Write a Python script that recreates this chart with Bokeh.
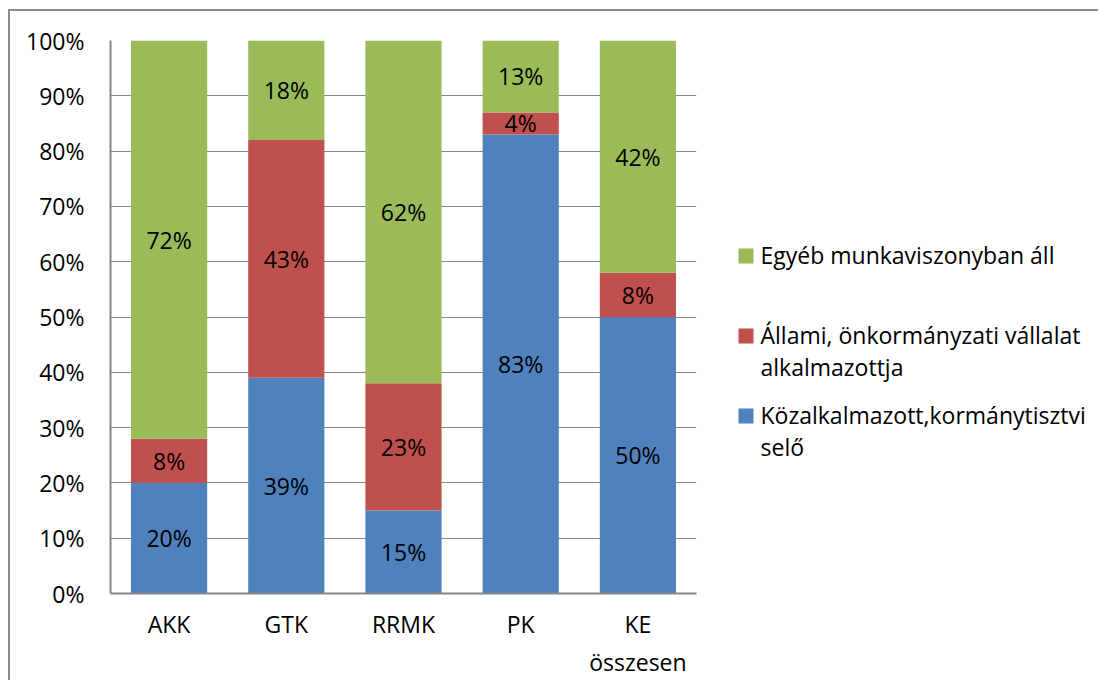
from bokeh.plotting import figure
from bokeh.layouts import row
from bokeh.models import (ColumnDataSource, LabelSet, FixedTicker, Range1d, FactorRange)
from bokeh.core.properties import value
from bokeh.embed import file_html
from bokeh.resources import INLINE

# ---- data ----
categories = ["AKK", "GTK", "RRMK", "PK", "KE\nösszesen"]
kozalkalmazott = [20, 39, 15, 83, 50]
allami = [8, 43, 23, 4, 8]
egyeb = [72, 18, 62, 13, 42]
series_keys = ["kozalk", "allami", "egyeb"]
series_labels = ["Közalkalmazott,kormánytisztvi\nselő",
                 "Állami, önkormányzati vállalat\nalkalmazottja",
                 "Egyéb munkaviszonyban áll"]
y_ticks = [0, 10, 20, 30, 40, 50, 60, 70, 80, 90, 100]

colors = ["#4F81BD", "#C0504D", "#9BBB59"]
FONT = "Open Sans"
FS = "23px"
GRID = "#868686"
H = 669
MB_TOP, MB_BOTTOM = 29, 87

src = ColumnDataSource(dict(cat=categories, kozalk=kozalkalmazott, allami=allami, egyeb=egyeb))

p = figure(x_range=FactorRange(*categories), y_range=Range1d(0, 100),
           width=690, height=H, output_backend="svg", toolbar_location=None,
           min_border_left=100, min_border_right=4,
           min_border_top=MB_TOP, min_border_bottom=MB_BOTTOM)
p.outline_line_color = None
p.background_fill_color = "white"
p.border_fill_color = "white"

rends = p.vbar_stack(series_keys, x="cat", width=0.65, color=colors, line_color=None, source=src)

# value labels in the middle of each segment
lx, ly, lt = [], [], []
for i, c in enumerate(categories):
    base = 0
    for vals in (kozalkalmazott, allami, egyeb):
        v = vals[i]
        lx.append(c)
        ly.append(base + v / 2)
        lt.append(f"{v}%")
        base += v
lsrc = ColumnDataSource(dict(x=lx, y=ly, t=lt))
p.add_layout(LabelSet(x="x", y="y", text="t", source=lsrc, text_align="center",
                      text_baseline="middle", text_font=value(FONT), text_font_size=FS,
                      text_color="black"))

# axes
p.yaxis.ticker = FixedTicker(ticks=y_ticks)
p.yaxis.major_label_overrides = {t: f"{t}%" for t in y_ticks}
for ax in (p.xaxis, p.yaxis):
    ax.major_tick_line_color = None
    ax.minor_tick_line_color = None
    ax.major_tick_out = 0
    ax.major_tick_in = 0
    ax.axis_line_color = GRID
    ax.axis_line_width = 2
    ax.major_label_text_font = FONT
    ax.major_label_text_font_size = FS
    ax.major_label_text_color = "black"
p.yaxis.major_label_standoff = 26
p.xaxis.major_label_standoff = 14
p.xgrid.grid_line_color = None
p.ygrid.ticker = FixedTicker(ticks=y_ticks)
p.ygrid.grid_line_color = GRID
p.ygrid.grid_line_width = 1

# ---- legend panel (separate figure to the right; its frame matches the main frame,
#      ranges are in page pixels: x 700..1098, y 40 (top) .. 593 (bottom)) ----
LW = 398
leg = figure(width=LW, height=H, x_range=Range1d(700, 700 + LW), y_range=Range1d(593, 40),
             x_axis_type=None, y_axis_type=None, output_backend="svg",
             toolbar_location=None, min_border_left=0, min_border_right=0,
             min_border_top=MB_TOP, min_border_bottom=MB_BOTTOM)
leg.grid.visible = False
leg.outline_line_color = None
leg.background_fill_color = "white"
leg.border_fill_color = "white"

order = [2, 1, 0]           # top entry first
first_y, step, line_h = 254, 80, 32
sq_x, txt_x = 745.5, 760
sqx, sqy, sqc = [], [], []
tx, ty, tt = [], [], []
for j, s in enumerate(order):
    y0 = first_y + j * step
    sqx.append(sq_x)
    sqy.append(y0 + 1.5)
    sqc.append(colors[s])
    for k, line in enumerate(series_labels[s].split("\n")):
        tx.append(txt_x)
        ty.append(y0 + k * line_h)
        tt.append(line)
leg.rect(x=sqx, y=sqy, width=15, height=15, width_units="screen", height_units="screen",
         fill_color=sqc, line_color=None)
leg.text(x=tx, y=ty, text=tt, text_font=value(FONT), text_font_size=FS,
         text_baseline="middle", text_align="left", text_color="black")

lay = row(p, leg)
lay.styles = {"margin-left": "8px", "margin-top": "9px",
              "border-left": "2px solid #8c8c8c", "border-top": "2px solid #8c8c8c"}

open("out.html", "w").write(file_html(lay, INLINE))
